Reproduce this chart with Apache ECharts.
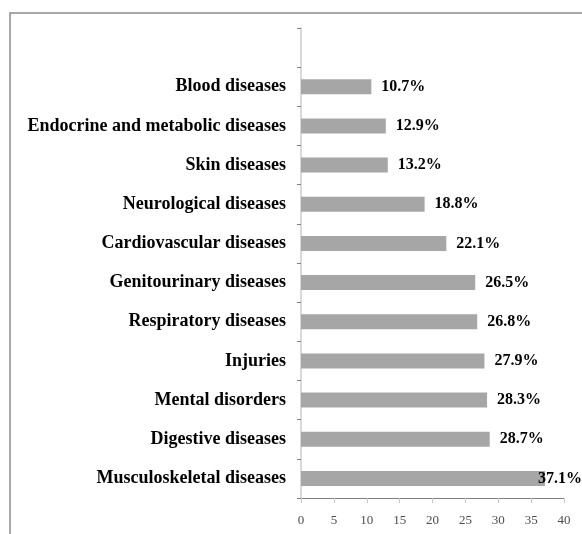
<!DOCTYPE html>
<html>
<head>
<meta charset="utf-8">
<script src="https://cdn.jsdelivr.net/npm/echarts@6/dist/echarts.min.js"></script>
<style>
  html, body { margin: 0; padding: 0; background: #fff; }
  #chart { width: 582px; height: 534px; }
</style>
</head>
<body>
<div id="chart"></div>
<script>
// Disease groups, listed from the bottom of the axis upwards; the final blank slot leaves headroom above the top bar
const categories = [
  'Musculoskeletal diseases',
  'Digestive diseases',
  'Mental disorders',
  'Injuries',
  'Respiratory diseases',
  'Genitourinary diseases',
  'Cardiovascular diseases',
  'Neurological diseases',
  'Skin diseases',
  'Endocrine and metabolic diseases',
  'Blood diseases',
  ''
];
// Prevalence in percent, same order as the categories
const prevalence = [37.1, 28.7, 28.3, 27.9, 26.8, 26.5, 22.1, 18.8, 13.2, 12.9, 10.7, null];
// Horizontal value axis
const xMin = 0, xMax = 40, xStep = 5;

const serif = '"Liberation Serif", "Times New Roman", serif';

const maxValue = Math.max(...prevalence.filter(x => x !== null));
const seriesData = prevalence.map(v => {
  if (v === null) return null;
  const item = { value: v };
  // the longest bar reaches the plot's edge, so its label is pulled back over the bar end
  if (v === maxValue) {
    item.label = { distance: -7 };
  }
  return item;
});

const chart = echarts.init(document.getElementById('chart'), null, { renderer: 'canvas' });
chart.setOption({
  animation: false,
  backgroundColor: '#ffffff',
  grid: { left: 301, right: 18, top: 28, bottom: 36, containLabel: false },
  xAxis: {
    type: 'value',
    min: xMin, max: xMax, interval: xStep,
    splitLine: { show: false },
    axisLine: { show: true, lineStyle: { color: '#7f7f7f', width: 1 } },
    axisTick: { show: true, length: 5, lineStyle: { color: '#c8c8c8', width: 1 } },
    axisLabel: { color: '#4d4d4d', fontFamily: serif, fontSize: 13, margin: 16 }
  },
  yAxis: {
    type: 'category',
    data: categories,
    axisLine: { show: true, lineStyle: { color: '#d9d9d9', width: 2 } },
    axisTick: { show: true, length: 4, lineStyle: { color: '#7f7f7f', width: 1 } },
    axisLabel: { color: '#000', fontFamily: serif, fontSize: 18, fontWeight: 'bold', margin: 15 }
  },
  series: [{
    type: 'bar',
    data: seriesData,
    barWidth: 15,
    itemStyle: { color: '#a6a6a6' },
    label: {
      show: true,
      position: 'right',
      distance: 10,
      formatter: p => p.value.toFixed(1) + '%',
      color: '#000',
      fontFamily: serif,
      fontSize: 16,
      fontWeight: 'bold'
    }
  }],
  graphic: [{
    type: 'rect',
    shape: { x: 10, y: 13, width: 700, height: 700 },
    style: { fill: null, stroke: '#8c8c8c', lineWidth: 1.5 },
    silent: true
  }]
});
</script>
</body>
</html>
